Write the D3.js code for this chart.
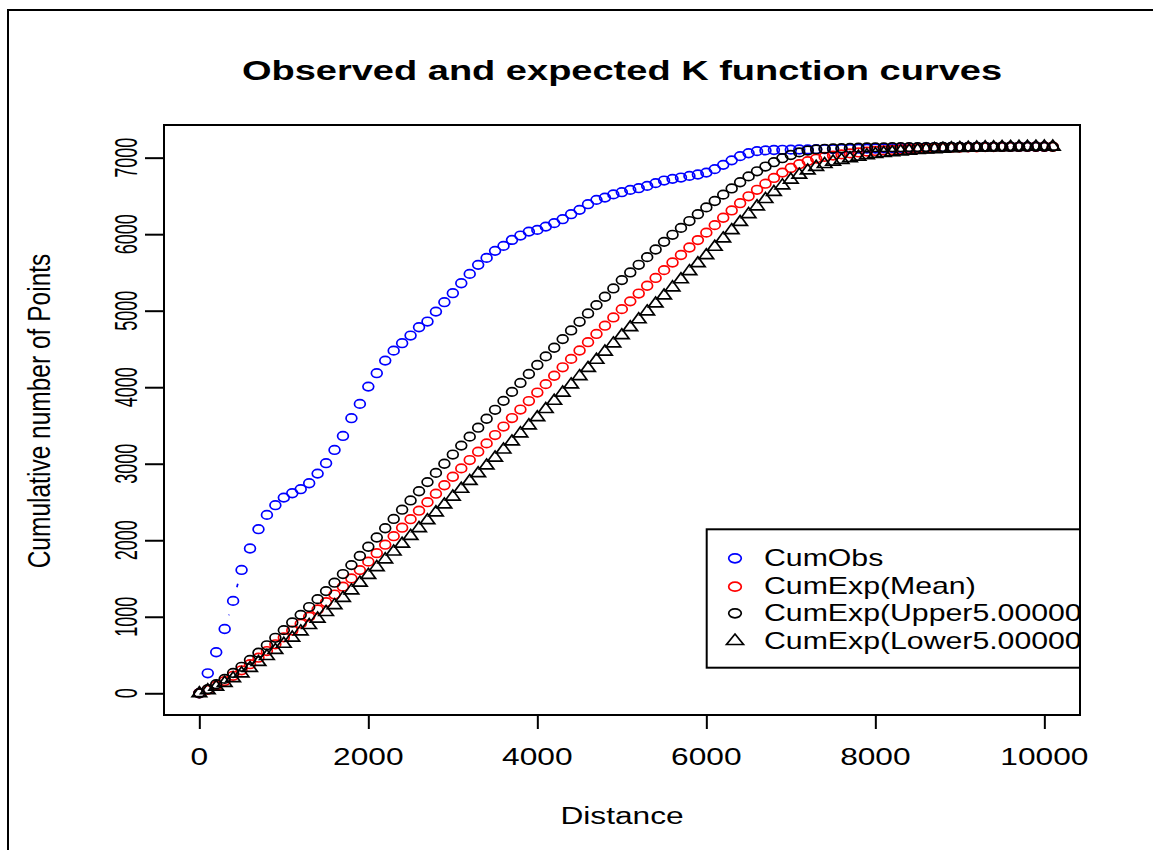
<!DOCTYPE html>
<html><head><meta charset="utf-8">
<script src="https://cdn.jsdelivr.net/npm/d3@7"></script>
<style>body{margin:0;background:#fff}</style>
</head><body><svg id="c" width="1153" height="850"></svg>
<script>
const distance = [
0,100,200,300,400,500,600,700,800,900,
1000,1100,1200,1300,1400,1500,1600,1700,1800,1900,
2000,2100,2200,2300,2400,2500,2600,2700,2800,2900,
3000,3100,3200,3300,3400,3500,3600,3700,3800,3900,
4000,4100,4200,4300,4400,4500,4600,4700,4800,4900,
5000,5100,5200,5300,5400,5500,5600,5700,5800,5900,
6000,6100,6200,6300,6400,6500,6600,6700,6800,6900,
7000,7100,7200,7300,7400,7500,7600,7700,7800,7900,
8000,8100,8200,8300,8400,8500,8600,8700,8800,8900,
9000,9100,9200,9300,9400,9500,9600,9700,9800,9900,
10000,10100];
const cumObs = [
0,261,536,840,1207,1612,1892,2144,2331,2458,
2557,2614,2667,2745,2871,3007,3180,3363,3595,3782,
4008,4183,4348,4478,4575,4675,4784,4858,4988,5111,
5229,5359,5481,5599,5690,5782,5847,5925,5982,6034,
6056,6099,6144,6196,6261,6318,6392,6448,6478,6520,
6549,6579,6601,6631,6667,6701,6723,6740,6762,6780,
6805,6850,6906,6965,7020,7058,7085,7095,7100,7103,
7105,7107,7108,7110,7111,7112,7114,7115,7117,7118,
7120,7122,7125,7127,7129,7131,7133,7135,7136,7137,
7138,7139,7140,7140,7141,7141,7142,7142,7143,7143,
7143];
const cumExpMean = [
0,45,100,160,228,300,380,465,552,640,
730,820,910,1002,1095,1190,1290,1393,1500,1610,
1720,1831,1942,2053,2164,2275,2386,2497,2608,2719,
2830,2939,3048,3157,3266,3375,3486,3597,3708,3819,
3930,4040,4150,4260,4370,4480,4588,4696,4804,4912,
5020,5122,5224,5326,5428,5530,5630,5728,5826,5923,
6020,6118,6215,6310,6405,6495,6580,6660,6735,6805,
6865,6915,6955,6988,7010,7028,7043,7056,7068,7079,
7088,7095,7101,7107,7112,7117,7121,7124,7127,7130,
7132,7134,7136,7138,7139,7140,7141,7142,7142,7143,
7143,7143];
const cumExpUpper = [
0,53,118,188,265,346,436,530,627,725,
825,925,1025,1127,1230,1335,1445,1558,1675,1795,
1915,2036,2157,2278,2399,2520,2640,2760,2880,3000,
3120,3237,3354,3471,3588,3705,3822,3939,4056,4173,
4290,4403,4516,4629,4742,4855,4964,5073,5182,5291,
5400,5500,5600,5700,5800,5900,5992,6082,6172,6261,
6350,6434,6517,6598,6679,6755,6822,6884,6941,6993,
7035,7069,7093,7108,7116,7120,7124,7128,7131,7133,
7134,7135,7136,7137,7138,7138,7139,7139,7140,7140,
7141,7141,7142,7142,7142,7143,7143,7143,7143,7143,
7143,7143];
const cumExpLower = [
0,38,84,135,195,259,330,407,485,564,
645,726,807,890,974,1060,1150,1245,1343,1444,
1545,1647,1749,1851,1953,2055,2157,2260,2363,2466,
2569,2671,2773,2874,2976,3078,3184,3289,3395,3500,
3606,3713,3821,3928,4035,4143,4250,4357,4464,4571,
4678,4782,4886,4989,5093,5197,5304,5409,5515,5619,
5723,5834,5943,6051,6158,6261,6362,6458,6550,6636,
6712,6776,6831,6878,6915,6947,6970,6991,7011,7030,
7047,7059,7069,7080,7089,7099,7105,7110,7115,7121,
7125,7128,7131,7133,7135,7137,7139,7140,7141,7142,
7143,7143];
const xTicks = [0,2000,4000,6000,8000,10000];
const yTicks = [0,1000,2000,3000,4000,5000,6000,7000];
const legendLabels = ["CumObs","CumExp(Mean)","CumExp(Upper5.000000%)","CumExp(Lower5.000000%)"];
const seriesColors = ["#0000FF","#FF0000","#000000","#000000"];
const seriesShapes = ["circle","circle","circle","triangle"];
const titleText = "Observed and expected K function curves";
const xLabel = "Distance";
const yLabel = "Cumulative number of Points";

const SX = 2.64, SY = 1.95;
const FONT = "'Liberation Sans', Arial, sans-serif";
const box = {l:164, r:1080, t:125, b:715};
const svg = d3.select("#c");

const x = d3.scaleLinear().domain([-418, 10422]).range([box.l, box.r]);
const y = d3.scaleLinear().domain([-284, 7427]).range([box.b, box.t]);

svg.append("rect").attr("x",8).attr("y",10).attr("width",1300).attr("height",1000)
  .attr("fill","none").attr("stroke","#000").attr("stroke-width",2);

const defs = svg.append("defs");
defs.append("clipPath").attr("id","plotclip").append("rect")
  .attr("x",box.l).attr("y",box.t).attr("width",box.r-box.l).attr("height",box.b-box.t);

function htext(sel, px, py, str, size, anchor, weight, baseline, kx){
  return sel.append("text")
    .attr("transform",`translate(${px},${py}) scale(${kx||SX/SY},1)`)
    .attr("font-family",FONT).attr("font-size",size)
    .attr("font-weight",weight||"normal")
    .attr("text-anchor",anchor||"middle")
    .attr("dominant-baseline",baseline||"auto")
    .attr("fill","#000").text(str);
}
function vtext(sel, px, py, str, size, k){
  return sel.append("text")
    .attr("transform",`translate(${px},${py}) rotate(-90) scale(${k},1)`)
    .attr("font-family",FONT).attr("font-size",size)
    .attr("text-anchor","middle").attr("fill","#000").text(str);
}

htext(svg, (box.l+box.r)/2, 80, titleText, 14.4*SY, "middle", "bold");
htext(svg, (box.l+box.r)/2, 824, xLabel, 12*SY, "middle");
vtext(svg, 50, 411, yLabel, 12*SX, 0.774);

const xAxis = d3.axisBottom(x).tickValues(xTicks).tickSize(14).tickFormat("");
const gx = svg.append("g").attr("transform",`translate(0,${box.b})`).call(xAxis);
const yAxis = d3.axisLeft(y).tickValues(yTicks).tickSize(19).tickFormat("");
const gy = svg.append("g").attr("transform",`translate(${box.l},0)`).call(yAxis);
[gx,gy].forEach(g=>{
  g.select(".domain").remove();
  g.selectAll(".tick line").attr("stroke","#000").attr("stroke-width",2);
});
xTicks.forEach(t=> htext(svg, x(t), 765, String(t), 12*SY, "middle"));
yTicks.forEach(t=> vtext(svg, 137.4, y(t), String(t), 12*SX, 0.57));

const plot = svg.append("g").attr("clip-path","url(#plotclip)");
const series = [cumObs, cumExpMean, cumExpUpper, cumExpLower];

function marker(g, shape, cx, cy, xc, yc, color){
  if(shape==="circle"){
    g.append("ellipse").attr("cx",cx).attr("cy",cy).attr("rx",xc).attr("ry",yc)
      .attr("fill","none").attr("stroke",color).attr("stroke-width",1.7);
  } else {
    const r = 1.5551, w = 1.3468, b = 0.7776;
    const p = `M${cx},${cy - r*yc} L${cx + w*xc},${cy + b*yc} L${cx - w*xc},${cy + b*yc} Z`;
    g.append("path").attr("d",p).attr("fill","none").attr("stroke",color)
      .attr("stroke-width",1.7).attr("stroke-linejoin","miter");
  }
}
const GAP = 7.2;
series.forEach((vals, si)=>{
  const g = plot.append("g");
  const pts = vals.map((v,i)=>[x(distance[i]), y(v)]);
  for(let i=0;i<pts.length-1;i++){
    const [x0,y0]=pts[i],[x1,y1]=pts[i+1];
    const Lo = Math.hypot((x1-x0)/SX,(y1-y0)/SY);
    if(Lo > 2*GAP){
      const t = GAP/Lo;
      g.append("line")
        .attr("x1",x0+(x1-x0)*t).attr("y1",y0+(y1-y0)*t)
        .attr("x2",x1-(x1-x0)*t).attr("y2",y1-(y1-y0)*t)
        .attr("stroke",seriesColors[si]).attr("stroke-width",1.7);
    }
  }
  pts.forEach(([px,py])=> marker(g, seriesShapes[si], px, py, 5.4, 4.3, seriesColors[si]));
});

const lg = svg.append("g").attr("clip-path","url(#plotclip)");
lg.append("rect").attr("x",706.7).attr("y",529.3).attr("width",500).attr("height",138.4)
  .attr("fill","none").attr("stroke","#000").attr("stroke-width",2);
const rowY = [558.3, 586.7, 613.3, 641.0];
legendLabels.forEach((lab,i)=>{
  marker(lg, seriesShapes[i], 735, rowY[i], 6.3, 4.5, seriesColors[i]);
  htext(lg, 764, rowY[i], lab, 12*SY, "start", "normal", "central", SX/SY*0.955);
});

svg.append("rect").attr("x",box.l).attr("y",box.t).attr("width",box.r-box.l).attr("height",box.b-box.t)
  .attr("fill","none").attr("stroke","#000").attr("stroke-width",2);
</script>
</body></html>
